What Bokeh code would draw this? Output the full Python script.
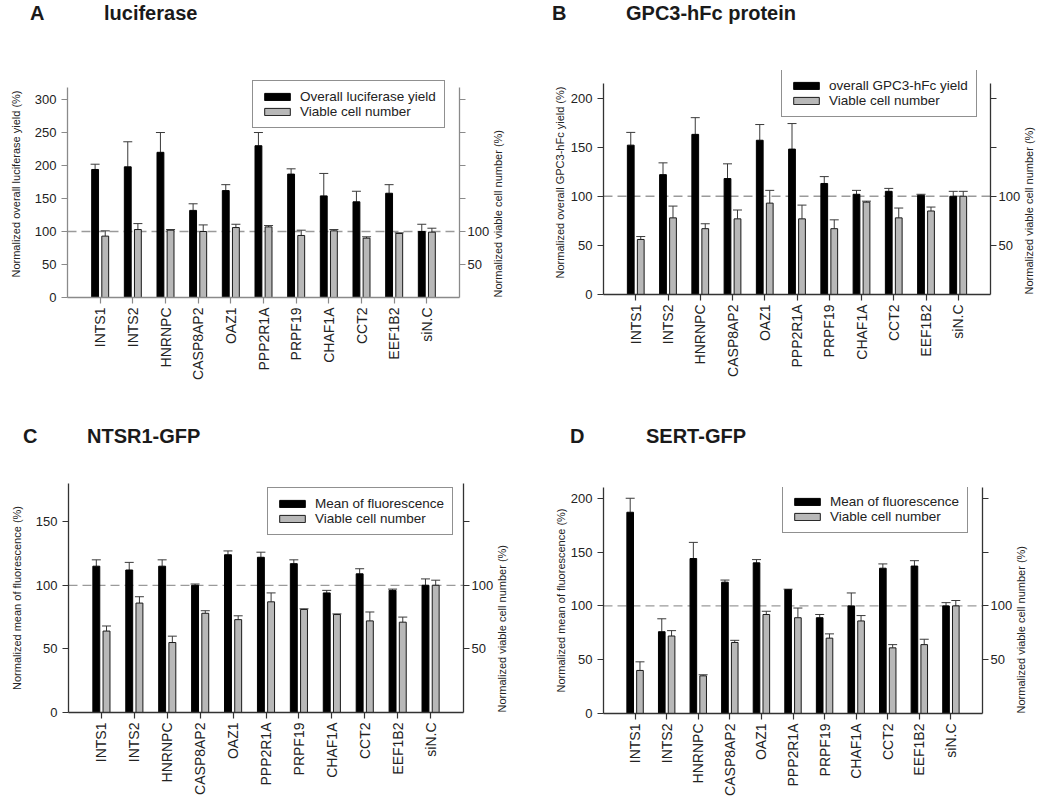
from math import pi
from bokeh.plotting import figure
from bokeh.models import (ColumnDataSource, FactorRange, LinearAxis, FixedTicker,
                          Span, Whisker, TeeHead, Range1d, Div)
from bokeh.transform import dodge
from bokeh.layouts import column, row
from bokeh.embed import file_html
from bokeh.resources import INLINE

cats = ["INTS1", "INTS2", "HNRNPC", "CASP8AP2", "OAZ1", "PPP2R1A", "PRPF19",
        "CHAF1A", "CCT2", "EEF1B2", "siN.C"]

# Panel A: luciferase
a_yield = [194, 198, 220, 132, 162, 230, 187, 154, 145, 158, 100]
a_yield_err = [8, 38, 30, 10, 9, 20, 8, 34, 16, 13, 11]
a_cell = [93, 103, 102, 100, 106, 107, 94, 101, 90, 97, 99]
a_cell_err = [8, 9, 1, 10, 5, 2, 8, 2, 2, 1, 6]

# Panel B: GPC3-hFc protein
b_yield = [152, 122, 163, 118, 157, 148, 113, 102, 105, 101, 100]
b_yield_err = [13, 12, 17, 15, 16, 26, 7, 4, 3, 1, 5]
b_cell = [56, 78, 67, 77, 93, 77, 67, 94, 78, 85, 100]
b_cell_err = [3, 12, 5, 9, 13, 14, 9, 1, 10, 4, 5]

# Panel C: NTSR1-GFP
c_mean = [115, 112, 115, 100, 124, 122, 117, 94, 109, 96, 100]
c_mean_err = [5, 6, 5, 1, 3, 4, 3, 2, 4, 1, 5]
c_cell = [64, 86, 55, 78, 73, 87, 81, 77, 72, 71, 100]
c_cell_err = [4, 5, 5, 2, 3, 7, 0.5, 0.5, 7, 4, 4]

# Panel D: SERT-GFP
d_mean = [187, 76, 144, 122, 140, 115, 89, 100, 135, 137, 100]
d_mean_err = [13, 12, 15, 2, 3, 0.5, 3, 12, 4, 5, 3]
d_cell = [40, 72, 35, 66, 92, 89, 70, 86, 61, 64, 100]
d_cell_err = [8, 5, 1, 2, 3, 9, 4, 5, 3, 5, 5]

FONT = "Liberation Sans"


def title_div(letter, title, width, height, letter_x, title_x, top):
    html = (f'<div style="position:relative;width:{width}px;height:{height}px;'
            f"font-family:'{FONT}',Arial,sans-serif;font-size:20px;font-weight:bold;"
            f'color:#1a1a1a;line-height:22px">'
            f'<span style="position:absolute;left:{letter_x}px;top:{top}px">{letter}</span>'
            f'<span style="position:absolute;left:{title_x}px;top:{top}px">{title}</span>'
            f'</div>')
    return Div(text=html, width=width, height=height, margin=(0, 0, 0, 0))


def panel(v1, e1, v2, e2, name1, ylabel, ytop, yframe, lticks, rticks,
          width, height, borders, legend_xy, ylab_standoff, axc):
    bl, br, bt, bb = borders
    p = figure(width=width, height=height,
               x_range=FactorRange(factors=cats, range_padding=0.5,
                                   range_padding_units="absolute"),
               y_range=Range1d(0, yframe), output_backend="svg",
               toolbar_location=None, tools="",
               min_border_left=bl, min_border_right=br,
               min_border_top=bt, min_border_bottom=bb, margin=(0, 0, 0, 0))
    p.outline_line_color = None
    p.grid.visible = False
    p.background_fill_color = "white"

    src = ColumnDataSource(dict(
        cat=cats, v1=v1, t1=[a + b for a, b in zip(v1, e1)],
        v2=v2, t2=[a + b for a, b in zip(v2, e2)]))

    p.add_layout(Span(location=100, dimension="width", line_color="#9a9a9a",
                      line_dash="9 5", line_width=1.3, level="underlay"))

    x1 = dodge("cat", -0.155, range=p.x_range)
    x2 = dodge("cat", 0.155, range=p.x_range)
    p.vbar(x=x1, top="v1", width=0.21, source=src, fill_color="black",
           line_color="black", legend_label=name1)
    p.vbar(x=x2, top="v2", width=0.21, source=src, fill_color="#b8b8b8",
           line_color="#1a1a1a", line_width=1, legend_label="Viable cell number")
    for xx, lo, hi in ((x1, "v1", "t1"), (x2, "v2", "t2")):
        p.add_layout(Whisker(source=src, base=xx, lower=lo, upper=hi,
                             dimension="height", line_color="#3a3a3a", line_width=1,
                             upper_head=TeeHead(size=9, line_color="#3a3a3a", line_width=1),
                             lower_head=None))

    # left axis
    la = p.yaxis[0]
    la.ticker = FixedTicker(ticks=lticks)
    la.bounds = (0, ytop)
    la.axis_label = ylabel
    la.axis_label_standoff = ylab_standoff

    ra = LinearAxis(ticker=FixedTicker(ticks=rticks), bounds=(0, ytop),
                    major_label_overrides={t: "" for t in rticks if t > 100},
                    axis_label="Normalized viable cell number (%)",
                    axis_label_standoff=6)
    try:
        ra.axis_label_orientation = pi / 2
    except Exception:
        pass
    for val in ("start", "left"):
        try:
            ra.axis_label_align = val
            break
        except Exception:
            pass
    p.add_layout(ra, "right")

    for ax in (la, ra, p.xaxis[0]):
        ax.axis_line_color = axc
        ax.axis_line_width = 1.3
        ax.major_tick_line_color = axc
        ax.major_tick_line_width = 1.2
        ax.major_tick_out = 6
        ax.major_tick_in = 0
        ax.minor_tick_line_color = None
        ax.major_label_text_font = FONT
        ax.major_label_text_font_size = "13px"
        ax.major_label_text_color = "#222222"
        ax.major_label_standoff = 5
        ax.axis_label_text_font = FONT
        ax.axis_label_text_font_size = "11px"
        ax.axis_label_text_font_style = "normal"
        ax.axis_label_text_color = "#222222"
    ra.major_label_standoff = 2

    p.xaxis.major_label_orientation = pi / 2
    p.xaxis.major_label_standoff = 4
    p.xaxis.major_label_text_font_size = "14px"

    # legend
    lg = p.legend[0]
    lg.location = legend_xy
    lg.label_text_font = FONT
    lg.label_text_font_size = "13.5px"
    lg.label_text_color = "#222222"
    lg.glyph_width = 32
    lg.glyph_height = 9
    lg.label_height = 14
    lg.label_standoff = 7
    lg.spacing = 0
    lg.padding = 8
    lg.margin = 0
    lg.border_line_color = "#222222"
    lg.border_line_width = 1.5
    lg.background_fill_alpha = 1.0
    return p


tA = title_div("A", "luciferase", 523, 28, 30, 104, 2)
pA = panel(a_yield, a_yield_err, a_cell, a_cell_err,
           "Overall luciferase yield", "Normalized overall luciferase yield (%)",
           318, 344, [0, 50, 100, 150, 200, 250, 300], [50, 100, 150, 200, 250, 300],
           523, 372, (67, 64, 42, 103), (185, 169), 10, "#8a8a8a")
tB = title_div("B", "GPC3-hFc protein", 525, 28, 29, 103, 2)
pB = panel(b_yield, b_yield_err, b_cell, b_cell_err,
           "overall GPC3-hFc yield", "Normalized overall GPC3-hFc yield (%)",
           215, 228, [0, 50, 100, 150, 200], [50, 100, 150, 200],
           525, 372, (80, 58, 42, 106), (178, 177), 2, "#333333")
tC = title_div("C", "NTSR1-GFP", 523, 50, 23, 87, 25)
pC = panel(c_mean, c_mean_err, c_cell, c_cell_err,
           "Mean of fluorescence", "Normalized mean of fluorescence (%)",
           180, 180, [0, 50, 100, 150], [50, 100, 150],
           523, 348, (68, 60, 33, 86), (199, 177), 10, "#333333")
tD = title_div("D", "SERT-GFP", 525, 50, 47, 123, 25)
pD = panel(d_mean, d_mean_err, d_cell, d_cell_err,
           "Mean of fluorescence", "Normalized mean of fluorescence (%)",
           210, 210, [0, 50, 100, 150, 200], [50, 100, 150, 200],
           525, 348, (80, 66, 37, 84), (179, 180), 1, "#333333")

layout = column(row(column(tA, pA), column(tB, pB)),
                row(column(tC, pC), column(tD, pD)))
open("out.html", "w").write(file_html(layout, INLINE))
